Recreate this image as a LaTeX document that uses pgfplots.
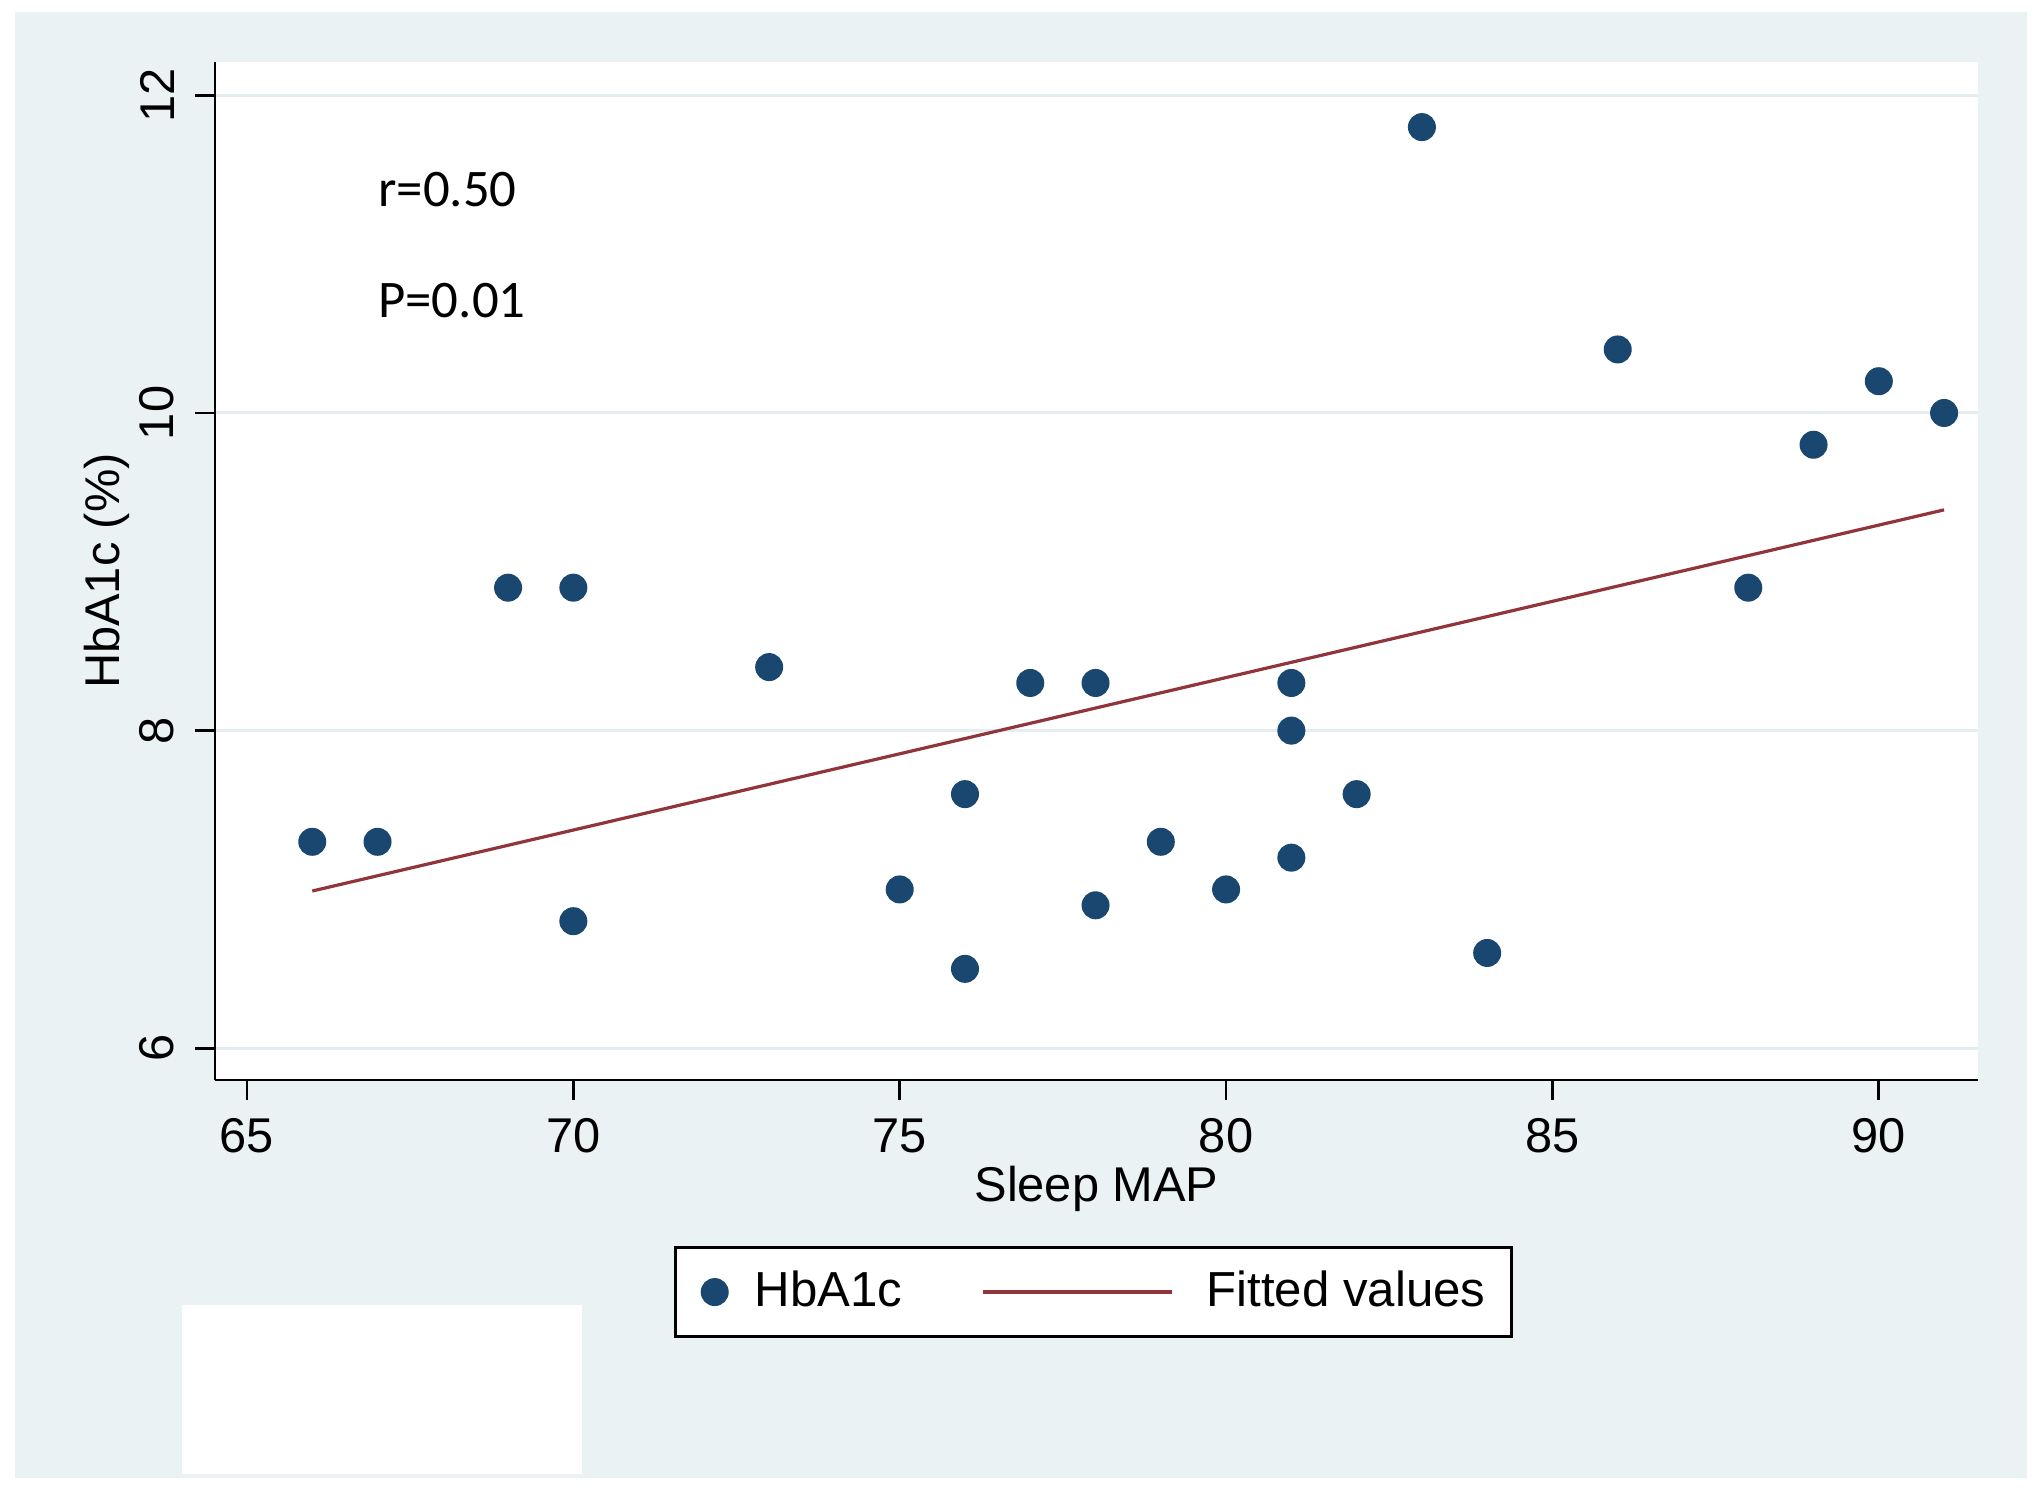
\documentclass[border=0pt]{standalone}
\usepackage{pgfplots}
\usepackage{pgfplotstable}
\pgfplotsset{compat=1.18}
\usepackage{fontspec}
\setmainfont{Liberation Sans}
\newfontfamily\calib{Carlito}
\definecolor{bgc}{HTML}{EAF2F3}
\definecolor{gridc}{HTML}{E4EDEF}
\definecolor{stnavy}{HTML}{1A476F}
\definecolor{stmaroon}{HTML}{90353B}
\newcommand\tfont{\fontsize{12.2}{14}\selectfont}
\pgfplotsset{
  fitline legend/.style={legend image code/.code={%
    \path[draw=none, fill=none] (0pt,-1pt) rectangle (56pt,1pt);
    \draw[##1] (0pt,0pt) -- (47.25pt,0pt);}},
  dot legend/.style={legend image code/.code={%
    \path[draw=none, fill=none] (-0.5pt,-1pt) rectangle (10pt,1pt);
    \draw[mark repeat=2, mark phase=2, ##1] plot coordinates {(-1pt,0pt) (0pt,0pt) (1pt,0pt)};}},
}
\pgfplotstableread{
x y
66 7.3
67 7.3
69 8.9
70 8.9
70 6.8
73 8.4
75 7.0
76 7.6
76 6.5
77 8.3
78 8.3
78 6.9
79 7.3
80 7.0
81 8.3
81 8.0
81 7.2
82 7.6
83 11.8
84 6.6
86 10.4
88 8.9
89 9.8
90 10.2
91 10.0
}\hbdata
\begin{document}
\begin{tikzpicture}
\path[use as bounding box] (0,0) rectangle (510pt,372.25pt);
\fill[bgc] (3.75pt,2.75pt) rectangle (506.75pt,369.25pt);
\fill[white] (45.5pt,3.75pt) rectangle (145.5pt,46pt);
\begin{axis}[
 at={(53.75pt,102.25pt)}, anchor=south west,
 scale only axis, width=440.75pt, height=254.5pt,
 xmin=64.51, xmax=91.52, ymin=5.80, ymax=12.21,
 axis x line*=bottom, axis y line*=left,
 axis line style={line width=0.7pt, -},
 axis background/.style={fill=white},
 xtick={65,70,...,90}, ytick={6,8,10,12},
 tick align=outside, major tick length=5pt,
 tick style={black, line width=0.7pt},
 ymajorgrids, grid style={gridc, line width=0.75pt},
 tick label style={font=\tfont},
 /pgf/number format/assume math mode=true,
 xticklabel style={anchor=north, inner sep=0pt},
 yticklabel style={rotate=90, anchor=south, inner sep=0pt},
 xticklabel shift=4.5pt, yticklabel shift=5pt,
 xlabel={Sleep MAP}, ylabel={HbA1c (\%)},
 label style={font=\tfont},
 xlabel style={at={(axis description cs:0.5,-0.1198)}, anchor=base, inner sep=0pt},
 ylabel style={at={(axis description cs:-0.0539,0.5)}, anchor=base, inner sep=0pt},
 legend columns=2,
 legend cell align=left,
 legend style={at={(axis description cs:0.4983,-0.2083)}, anchor=center,
   draw=black, line width=0.8pt, fill=white,
   inner xsep=6.5pt, inner ysep=6pt,
   nodes={inner sep=0pt},
   font=\fontsize{12.3}{14}\selectfont,
   /tikz/every even column/.append style={column sep=19.65pt}},
]
\addplot[only marks, mark=*, mark size=3.3pt, color=stnavy, mark options={fill=stnavy, draw=stnavy, line width=0.4pt}, dot legend] table[x=x, y=y] {\hbdata};
\addlegendentry{HbA1c}
\addplot[stmaroon, line width=0.8pt, no marks, fitline legend] coordinates {(66,6.99) (91,9.39)};
\addlegendentry{Fitted values}
\node[anchor=base west, font=\calib\fontsize{13.2}{15}\selectfont, inner sep=0pt] at (axis cs:67.0,11.30) {r=0.50};
\node[anchor=base west, font=\calib\fontsize{13.2}{15}\selectfont, inner sep=0pt] at (axis cs:67.0,10.60) {P=0.01};
\end{axis}
\end{tikzpicture}
\end{document}
